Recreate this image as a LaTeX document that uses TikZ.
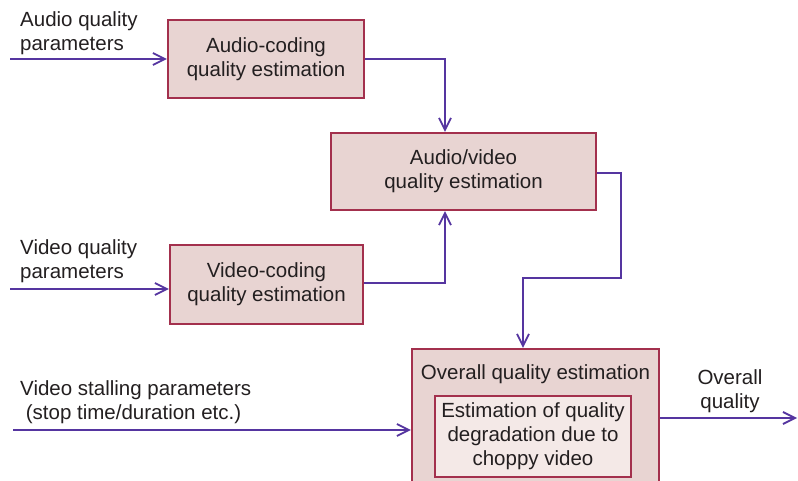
\documentclass[tikz,border=0pt]{standalone}
\usepackage{fontspec}
\setmainfont{Liberation Sans}
\usepackage{tikz}
\usetikzlibrary{arrows.meta,calc}
\definecolor{boxred}{HTML}{A3304D}
\definecolor{boxfill}{HTML}{E8D4D2}
\definecolor{innerfill}{HTML}{F4E9E7}
\definecolor{flow}{HTML}{5535A0}
\definecolor{ink}{HTML}{231F20}
\tikzstyle{blk}=[rectangle, draw=boxred, fill=boxfill, line width=2.2pt,
text=ink, align=center, inner sep=0pt]
\tikzstyle{innerblk}=[blk, fill=innerfill]
\tikzstyle{lbl}=[text=ink, inner sep=0pt]
\tikzstyle{flowline}=[draw=flow, line width=2pt, -{Straight Barb[length=12pt,width=12pt,line width=1.8pt]}]

\begin{document}
\begin{tikzpicture}[x=1pt,y=-1pt,font=\fontsize{20.5}{24}\selectfont]
\useasboundingbox (0,0) rectangle (798,481);
\clip (0,0) rectangle (798,481);
% blocks
\node[blk, minimum width=196, minimum height=78] (ac) at (266,59) {Audio-coding\\quality estimation};
\node[blk, minimum width=265, minimum height=77] (av) at (463.5,171.5) {Audio/video\\quality estimation};
\node[blk, minimum width=193, minimum height=79] (vc) at (266.5,284.5) {Video-coding\\quality estimation};
\node[blk, minimum width=247, minimum height=160] (ov) at (535.5,429) {};
\node[lbl] (ovt) at (535.5,374) {Overall quality estimation};
\node[innerblk, minimum width=196, minimum height=81] (ch) at (533,436.5) {Estimation of quality\\degradation due to\\choppy video};
% labels
\node[lbl, align=left, anchor=west] (alab) at (20,33) {Audio quality\\parameters};
\node[lbl, align=left, anchor=west] (vlab) at (20,261) {Video quality\\parameters};
\node[lbl, align=left, anchor=west] (slab) at (20,402) {Video stalling parameters\\\ (stop time/duration etc.)};
\node[lbl, align=center] (olab) at (730,391) {Overall\\quality};
% free ends
\coordinate (ain) at (10,59);
\coordinate (vin) at (10,289);
\coordinate (sin) at (13,430);
\coordinate (oout) at (797,418);
\coordinate (bend) at (621,278);
% connectors
\draw[flowline] (ain) -- (ac.west);
\draw[flowline] (vin) -- (vc.west |- vin);
\draw[flowline] (sin) -- (ov.west |- sin);
\draw[flowline] (ac.east) -| ([xshift=-18.5]av.north);
\draw[flowline] ([yshift=1.5]vc.east) -| ([xshift=-18.5]av.south);
\draw[flowline] ([yshift=-1.5]av.east) -| (bend) -| ([xshift=-12.5]ov.north);
\draw[flowline] (ov.east |- oout) -- (oout);
\end{tikzpicture}
\end{document}
